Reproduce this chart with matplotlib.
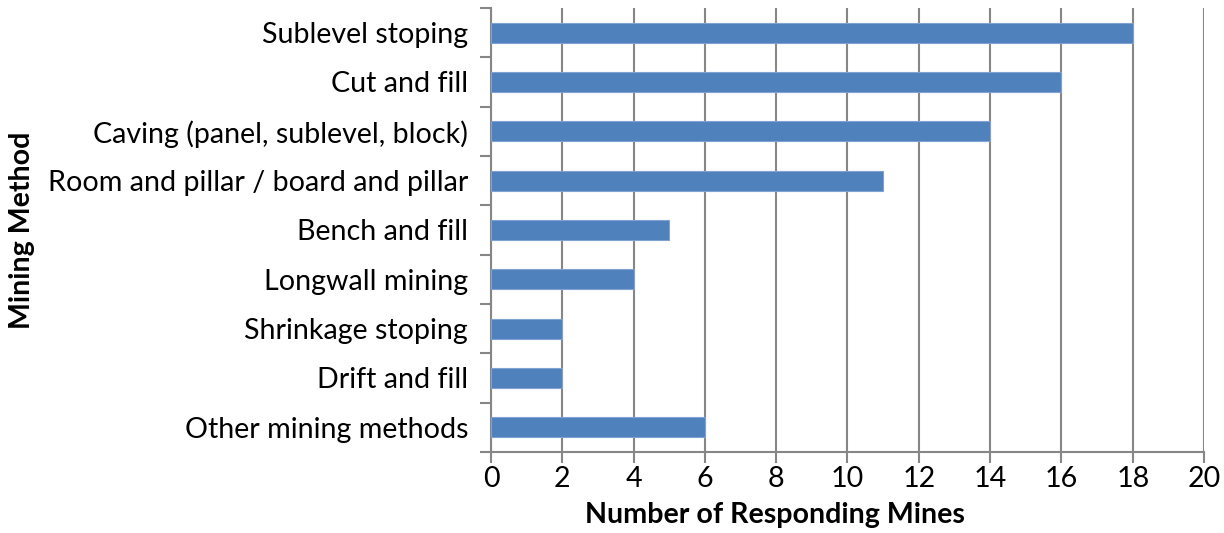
import matplotlib
matplotlib.use("Agg")
import matplotlib.pyplot as plt

methods = [
    "Sublevel stoping",
    "Cut and fill",
    "Caving (panel, sublevel, block)",
    "Room and pillar / board and pillar",
    "Bench and fill",
    "Longwall mining",
    "Shrinkage stoping",
    "Drift and fill",
    "Other mining methods",
]
mines = [18, 16, 14, 11, 5, 4, 2, 2, 6]
x_ticks = [0, 2, 4, 6, 8, 10, 12, 14, 16, 18, 20]

plt.rcParams["font.family"] = ["Lato", "DejaVu Sans"]
FS = 20.6

fig = plt.figure(figsize=(12.24, 5.33), dpi=100)
ax = fig.add_axes([0.4011, 0.152, 0.5826, 0.833])

grid_col = "#868686"
bar_col = "#4F81BD"

n = len(methods)
ypos = list(range(n))[::-1]
ax.barh(ypos, mines, height=0.4, color=bar_col, edgecolor="#7FA2D2",
        linewidth=0.8, zorder=3)

ax.set_xlim(0, 20)
ax.set_ylim(-0.5, n - 0.5)
ax.set_xticks(x_ticks)
ax.set_xticklabels([str(v) for v in x_ticks], fontsize=FS)
ax.set_yticks(ypos)
ax.set_yticklabels(methods, fontsize=FS)
ax.tick_params(axis="y", length=0, pad=16.5)
ax.set_yticks([i - 0.5 for i in range(n + 1)], minor=True)
ax.tick_params(axis="y", which="minor", length=8, width=1.5, color=grid_col)
ax.tick_params(axis="x", length=8, width=1.5, color=grid_col, pad=2)

ax.grid(axis="x", color=grid_col, linewidth=1.5, zorder=0)
for s in ["top", "right"]:
    ax.spines[s].set_visible(False)
for s in ["left", "bottom"]:
    ax.spines[s].set_color(grid_col)
    ax.spines[s].set_linewidth(1.5)

fig.text(0.633, 0.034, "Number of Responding Mines", fontsize=FS,
         fontweight="bold", ha="center", va="center")
fig.text(0.018, 0.568, "Mining Method", rotation=90, fontsize=FS,
         fontweight="bold", ha="center", va="center")

fig.savefig("out.png", dpi=100)
